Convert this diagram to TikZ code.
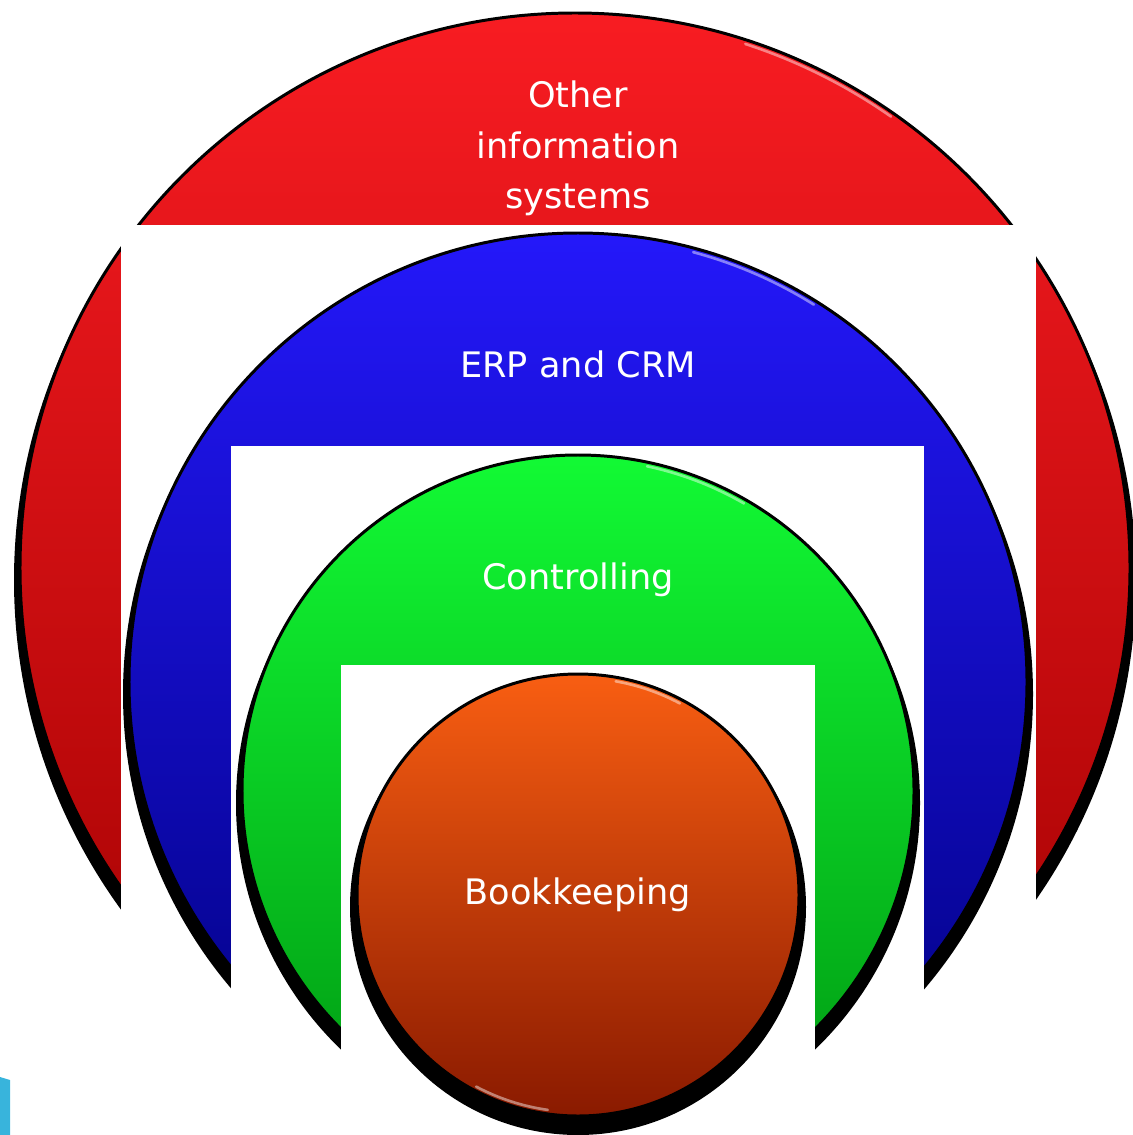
\documentclass[tikz,border=0pt]{standalone}
\usepackage{fontspec}
\setmainfont{DejaVu Sans}

\definecolor{redtop}{HTML}{F81C22}
\definecolor{redbot}{HTML}{A00000}
\definecolor{bluetop}{HTML}{2418FA}
\definecolor{bluebot}{HTML}{000080}
\definecolor{greentop}{HTML}{12FA34}
\definecolor{greenbot}{HTML}{009A12}
\definecolor{orangetop}{HTML}{F85E12}
\definecolor{orangebot}{HTML}{8A1A00}
\definecolor{cornerblue}{HTML}{38B4DC}

\tikzset{
  ringshadow/.style={fill=black},
  ringface/.style={draw=black, line width=1.7pt},
  gloss/.style={draw=white, line width=1.5pt, opacity=0.45, line cap=round},
  cutout/.style={fill=white}
}

\begin{document}
\begin{tikzpicture}[x=0.02cm, y=-0.02cm]
        \useasboundingbox (0,0) rectangle (1132,1135);
        % outer ring
        \fill[ringshadow] (575,580) circle[radius=561];
        \shade[ringface, top color=redtop, bottom color=redbot] (575,568) circle[radius=555];
        \draw[gloss] (575,568) ++(-72:551) arc[start angle=-72, end angle=-55, radius=551];
        \fill[cutout] (0,225) rectangle (1132,242);
        \fill[cutout] (121,242) rectangle (1036,1135);
        % second ring
        \fill[ringshadow] (578,694) circle[radius=455];
        \shade[ringface, top color=bluetop, bottom color=bluebot] (578,682) circle[radius=449];
        \draw[gloss] (578,682) ++(-75:445) arc[start angle=-75, end angle=-58, radius=445];
        \fill[cutout] (231,446) rectangle (924,1135);
        % third ring
        \fill[ringshadow] (578,803) circle[radius=342];
        \shade[ringface, top color=greentop, bottom color=greenbot] (578,791) circle[radius=336];
        \draw[gloss] (578,791) ++(-78:332) arc[start angle=-78, end angle=-60, radius=332];
        \fill[cutout] (341,665) rectangle (815,1135);
        % core
        \fill[ringshadow] (578,907) circle[radius=228];
        \shade[ringface, top color=orangetop, bottom color=orangebot] (578,895) circle[radius=221];
        \draw[gloss] (578,895) ++(-80:217) arc[start angle=-80, end angle=-62, radius=217];
        \draw[gloss] (578,895) ++(118:217) arc[start angle=118, end angle=98, radius=217];
        % corner fragment
        \fill[cornerblue] (0,1077) -- (10,1080) -- (10,1135) -- (0,1135) -- cycle;

        \begin{scope}[every node/.style={text=white, font=\fontsize{20pt}{29pt}\selectfont, inner sep=0pt}]
                \node[align=center, anchor=base] (Other) at (578,209) {Other\\information\\systems};
                \node[anchor=base] (Erp) at (578,377) {ERP and CRM};
                \node[anchor=base] (Ctrl) at (578,589) {Controlling};
                \node[anchor=base] (Book) at (578,904) {Bookkeeping};
        \end{scope}
\end{tikzpicture}
\end{document}
